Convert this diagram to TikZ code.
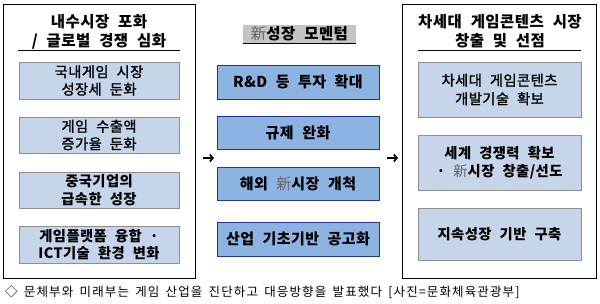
\documentclass[tikz,border=0pt]{standalone}
\usepackage{fontspec}
\setmainfont{Noto Sans CJK KR}[WordSpace=2.2,LetterSpace=3]
\newfontfamily\medfont{Noto Sans CJK KR}[WordSpace=2.2,LetterSpace=3,FakeBold=1.3]
\newfontfamily\capfont{Noto Sans CJK KR}[WordSpace=1.6,LetterSpace=9]
\usetikzlibrary{arrows.meta}
\definecolor{lightfill}{HTML}{C6D5EA}
\definecolor{lightedge}{HTML}{8E8E8E}
\definecolor{midfill}{HTML}{8DB3E2}
\definecolor{midedge}{HTML}{24348F}
\definecolor{hl}{HTML}{C4C4C4}
\newcommand{\hanja}[1]{{\mdseries\color{black!60}#1}}
\begin{document}
\begin{tikzpicture}[x=1pt,y=-1pt,
  outerbox/.style={draw=black,line width=0.9pt,minimum width=#1,inner sep=0pt,anchor=center},
  lbox/.style={draw=lightedge,fill=lightfill,line width=0.8pt,minimum width=160pt,align=center,inner sep=0pt,font=\medfont\fontsize{14.3}{17.5}\selectfont},
  mbox/.style={draw=midedge,fill=midfill,line width=1pt,minimum width=162pt,align=center,inner sep=0pt,font=\fontsize{15}{17.5}\selectfont\bfseries},
  rbox/.style={draw=lightedge,fill=lightfill,line width=0.8pt,minimum width=163pt,align=center,inner sep=0pt,font=\medfont\fontsize{14.3}{18.5}\selectfont},
  ttl/.style={align=center,inner sep=0pt,font=\fontsize{15.5}{19}\selectfont\bfseries},
  arr/.style={line width=1.7pt,-{Straight Barb[length=3pt,width=7pt]}},
  uline/.style={line width=1pt}]
\useasboundingbox (0,0) rectangle (600,303);
\fill[white] (0,0) rectangle (600,303);
% outer boxes
\node[outerbox=192pt,minimum height=274pt] (L) at (99,141) {};
\node[outerbox=194pt,minimum height=274pt] (R) at (499,141) {};
% titles
\node[ttl] (Lt) at (99,31.5) {내수시장 포화\\/ 글로벌 경쟁 심화};
\draw[uline] (18,50) -- (180,50);
\node[ttl] (Rt) at (500,31) {차세대 게임콘텐츠 시장\\창출 및 선점};
\draw[uline] (418,50) -- (581,50);
\node[fill=hl,minimum width=113pt,minimum height=18pt,inner sep=0pt,font=\fontsize{15.5}{16}\selectfont\bfseries] (Mt) at (299.5,34) {\hanja{新}성장 모멘텀};
\draw[line width=0.8pt] (Mt.south west) -- (Mt.south east);
% left boxes
\node[lbox,minimum height=37pt] (L1) at (99,80.5) {국내게임 시장\\성장세 둔화};
\node[lbox,minimum height=36pt] (L2) at (99,135) {게임 수출액\\증가율 둔화};
\node[lbox,minimum height=36pt,font=\fontsize{14.3}{17.5}\selectfont\bfseries] (L3) at (99,190) {중국기업의\\급속한 성장};
\node[lbox,minimum height=37pt,font=\fontsize{14.3}{17.5}\selectfont\bfseries] (L4) at (99,244.5) {게임플랫폼 융합 ·\\ICT기술 환경 변화};
% middle boxes
\node[mbox,minimum height=34pt] (M1) at (298,82) {R\&D 등 투자 확대};
\node[mbox,minimum height=33pt] (M2) at (298,132.5) {규제 완화};
\node[mbox,minimum height=33pt] (M3) at (298,183.5) {해외 \hanja{新}시장 개척};
\node[mbox,minimum height=34pt] (M4) at (298,239) {산업 기초기반 공고화};
% right boxes
\node[rbox,minimum height=55pt] (R1) at (499.5,89.5) {차세대 게임콘텐츠\\개발기술 확보};
\node[rbox,minimum height=55pt,font=\fontsize{14.3}{18.5}\selectfont\bfseries] (R2) at (499.5,162.5) {세계 경쟁력 확보\\· \hanja{新}시장 창출/선도};
\node[rbox,minimum height=52pt,font=\fontsize{14.3}{18}\selectfont\bfseries] (R3) at (499.5,234) {지속성장 기반 구축};
% arrows
\coordinate (a1s) at (203,158); \coordinate (a1e) at (214,158);
\coordinate (a2s) at (387,158); \coordinate (a2e) at (398,158);
\draw[arr] (a1s) -- (a1e);
\draw[arr] (a2s) -- (a2e);
% caption
\node[anchor=west,inner sep=0pt,font=\capfont\fontsize{12.5}{14}\selectfont] (cap) at (5,292) {◇ 문체부와 미래부는 게임 산업을 진단하고 대응방향을 발표했다 [사진=문화체육관광부]};
\end{tikzpicture}
\end{document}
